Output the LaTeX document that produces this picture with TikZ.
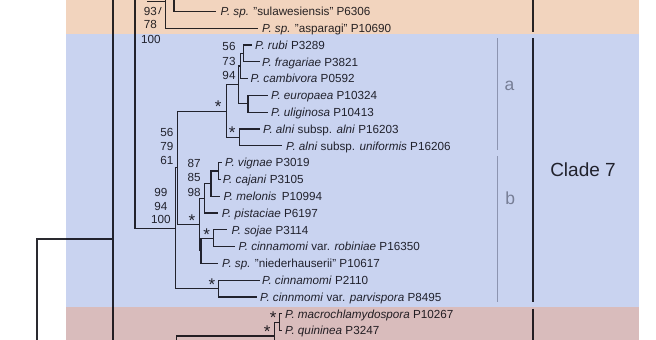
\documentclass[tikz,border=0pt]{standalone}
\usepackage{fontspec}
\setmainfont{Liberation Sans}
\definecolor{orangeband}{RGB}{242,212,190}
\definecolor{blueband}{RGB}{201,211,240}
\definecolor{redband}{RGB}{217,188,188}
\definecolor{ink}{RGB}{42,42,48}
\definecolor{barc}{RGB}{178,180,188}
\tikzset{
  br/.style={draw=ink, line width=1.1pt},
  leaf/.style={anchor=base west, inner sep=0pt, text=ink, font=\fontsize{11.7}{14}\selectfont},
  bsv/.style={anchor=base, inner sep=0pt, text=ink, font=\fontsize{11.7}{14}\selectfont},
  starlab/.style={anchor=base, inner sep=0pt, text=ink, font=\fontsize{17}{17}\selectfont},
  cladebar/.style={draw=ink, line width=1.6pt},
  subbar/.style={draw=barc, line width=1.3pt},
  sublab/.style={anchor=base, inner sep=0pt, text=barc!85!black, font=\fontsize{17.5}{18}\selectfont},
}
\begin{document}
\begin{tikzpicture}[x=1pt,y=-1pt]
\useasboundingbox (0,0) rectangle (656,340);
% ---------- leaf tips
\coordinate (tsula) at (216,11.2);
\coordinate (tasp) at (258,28.2);
\coordinate (trubi) at (252,45);
\coordinate (tfrag) at (260,61.8);
\coordinate (tcamb) at (248,78.6);
\coordinate (teuro) at (268,95.4);
\coordinate (tuli) at (268,112.2);
\coordinate (talni) at (260,129);
\coordinate (tunif) at (282,145.8);
\coordinate (tvig) at (222,162.6);
\coordinate (tcaj) at (220.5,179.4);
\coordinate (tmel) at (220,196.2);
\coordinate (tpis) at (218.3,213);
\coordinate (tsoj) at (227,229.8);
\coordinate (trob) at (235,246.6);
\coordinate (tnied) at (218.3,263.4);
\coordinate (tcinn) at (260,280.2);
\coordinate (tparv) at (257,297);
\coordinate (tmacro) at (282,313.8);
\coordinate (tquin) at (282,330.6);
% ---------- internal nodes
\coordinate (A) at (243.8,53.4);
\coordinate (B) at (240.3,66);
\coordinate (C) at (248,103.8);
\coordinate (D) at (238.7,84.9);
\coordinate (AL) at (239.3,137.4);
\coordinate (A0) at (226.5,111.15);
\coordinate (V) at (218.3,171);
\coordinate (M) at (211,183.6);
\coordinate (Pst) at (204.5,198.3);
\coordinate (S) at (213.3,238.2);
\coordinate (Nd) at (201,250.8);
\coordinate (Bc) at (199.5,224.55);
\coordinate (N1) at (177.2,167.85);
\coordinate (CP) at (218.3,288.6);
\coordinate (N0) at (175.5,228.2);
\coordinate (Q) at (279.3,322.2);
\coordinate (Rbot) at (274.3,340);
\coordinate (Rj) at (274.3,336);
\coordinate (Kbot) at (176.7,340);
\coordinate (O1top) at (165.7,0);
\coordinate (O2top) at (174,0);
\coordinate (Htl) at (147,1.2);
\coordinate (Htr) at (165.7,1.2);
\coordinate (Ktop) at (135,0);
\coordinate (Ltop) at (113,0);
\coordinate (Lbot) at (113,340);
\coordinate (J113) at (113,239);
\coordinate (R0bot) at (37,340);
\coordinate (sl1) at (158.6,14);
\coordinate (sl2) at (161.2,7);
% ---------- branches
\draw[br] (O2top) |- (tsula);
\draw[br] (O1top) |- (tasp);
\draw[br] (Htl) -- (Htr);
\draw[br, line width=0.8pt] (sl1) -- (sl2);
\draw[br] (Ltop) -- (Lbot);
\draw[br] (R0bot) |- (J113);
\draw[br] (Ktop) |- (N0);
\draw[br] (N0) |- (N1);
\draw[br] (N0) |- (CP);
\draw[br] (N1) |- (A0);
\draw[br] (N1) |- (Bc);
\draw[br] (A0) |- (D);
\draw[br] (A0) |- (AL);
\draw[br] (D) |- (B);
\draw[br] (D) |- (C);
\draw[br] (B) |- (A);
\draw[br] (B) |- (tcamb);
\draw[br] (A) |- (trubi);
\draw[br] (A) |- (tfrag);
\draw[br] (C) |- (teuro);
\draw[br] (C) |- (tuli);
\draw[br] (AL) |- (talni);
\draw[br] (AL) |- (tunif);
\draw[br] (Bc) |- (Pst);
\draw[br] (Bc) |- (Nd);
\draw[br] (Pst) |- (M);
\draw[br] (Pst) |- (tpis);
\draw[br] (M) |- (V);
\draw[br] (M) |- (tmel);
\draw[br] (V) |- (tvig);
\draw[br] (V) |- (tcaj);
\draw[br] (Nd) |- (S);
\draw[br] (Nd) |- (tnied);
\draw[br] (S) |- (tsoj);
\draw[br] (S) |- (trob);
\draw[br] (CP) |- (tcinn);
\draw[br] (CP) |- (tparv);
\draw[br] (Rbot) |- (Q);
\draw[br] (Q) |- (tmacro);
\draw[br] (Q) |- (tquin);
\draw[br] (Kbot) |- (Rj);
% ---------- leaf labels
\node[leaf] (Lsula) at (220.5,15.4) {\textit{P. sp.} "sulawesiensis" P6306};
\node[leaf] (Lasp) at (262,32.4) {\textit{P. sp.} "asparagi" P10690};
\node[leaf] (Lrubi) at (255,49.2) {\textit{P. rubi} P3289};
\node[leaf] (Lfrag) at (262,66) {\textit{P. fragariae} P3821};
\node[leaf] (Lcamb) at (250.5,82.8) {\textit{P. cambivora} P0592};
\node[leaf] (Leuro) at (271,99.6) {\textit{P. europaea} P10324};
\node[leaf] (Luli) at (271,116.4) {\textit{P. uliginosa} P10413};
\node[leaf] (Lalni) at (263,133.2) {\textit{P. alni} subsp. \textit{alni} P16203};
\node[leaf] (Lunif) at (286,150) {\textit{P. alni} subsp. \textit{uniformis} P16206};
\node[leaf] (Lvig) at (225,166.8) {\textit{P. vignae} P3019};
\node[leaf] (Lcaj) at (222.7,183.6) {\textit{P. cajani} P3105};
\node[leaf] (Lmel) at (223.3,200.4) {\textit{P. melonis} \,P10994};
\node[leaf] (Lpis) at (221.7,217.2) {\textit{P. pistaciae} P6197};
\node[leaf] (Lsoj) at (231.3,234) {\textit{P. sojae} P3114};
\node[leaf] (Lrob) at (238.3,250.8) {\textit{P. cinnamomi} var. \textit{robiniae} P16350};
\node[leaf] (Lnied) at (222,267.6) {\textit{P. sp.} "niederhauserii" P10617};
\node[leaf] (Lcinn) at (262,284.4) {\textit{P. cinnamomi} P2110};
\node[leaf] (Lparv) at (260,301.2) {\textit{P. cinnmomi} var. \textit{parvispora} P8495};
\node[leaf] (Lmacro) at (285,318) {\textit{P. macrochlamydospora} P10267};
\node[leaf] (Lquin) at (285,334.8) {\textit{P. quininea} P3247};
% ---------- support values
\node[bsv] (s1a) at (150.5,15.1) {93};
\node[bsv] (s1b) at (150.5,28.4) {78};
\node[bsv] (s1c) at (150.8,43.4) {100};
\node[bsv] (s2a) at (229,50.9) {56};
\node[bsv] (s2b) at (229,65.4) {73};
\node[bsv] (s2c) at (229,79.9) {94};
\node[bsv] (s3a) at (167,136.2) {56};
\node[bsv] (s3b) at (167,150.4) {79};
\node[bsv] (s3c) at (167,164.9) {61};
\node[bsv] (s4a) at (160.8,196.2) {99};
\node[bsv] (s4b) at (160.8,210.9) {94};
\node[bsv] (s4c) at (160.8,223.9) {100};
\node[bsv] (s5a) at (194.2,167.5) {87};
\node[bsv] (s5b) at (194.2,181.9) {85};
\node[bsv] (s5c) at (194.2,196.2) {98};
% ---------- stars
\node[starlab] (st1) at (218.3,112) {*};
\node[starlab] (st2) at (232.2,138.1) {*};
\node[starlab] (st3) at (192,226.5) {*};
\node[starlab] (st4) at (206.7,240.5) {*};
\node[starlab] (st5) at (212,290.5) {*};
\node[starlab] (st6) at (273.3,323.1) {*};
\node[starlab] (st7) at (267.2,337.1) {*};
% ---------- clade bars and labels
\coordinate (cb1a) at (532.7,0);
\coordinate (cb1b) at (532.7,32);
\coordinate (cb2a) at (532.7,38.3);
\coordinate (cb2b) at (532.7,301.7);
\coordinate (cb3a) at (532.7,308.5);
\coordinate (cb3b) at (532.7,340);
\draw[cladebar] (cb1a) -- (cb1b);
\draw[cladebar] (cb2a) -- (cb2b);
\draw[cladebar] (cb3a) -- (cb3b);
\coordinate (ga1) at (497.7,38.3);
\coordinate (ga2) at (497.7,150);
\coordinate (gb1) at (497.7,156);
\coordinate (gb2) at (497.7,301.7);
\draw[subbar] (ga1) -- (ga2);
\draw[subbar] (gb1) -- (gb2);
\node[sublab] (la) at (509.5,90.7) {a};
\node[sublab] (lb) at (510.3,204) {b};
\node[anchor=base, inner sep=0pt, text=ink, font=\fontsize{19}{20}\selectfont] (clade) at (583,176.8) {Clade 7};
% ---------- coloured bands (multiplied over the drawing)
\begin{scope}[blend mode=multiply]
\fill[orangeband] (66,0) rectangle (639,34);
\fill[blueband] (66,34) rectangle (639,307.3);
\fill[redband] (66,307.3) rectangle (639,340);
\end{scope}
\end{tikzpicture}
\end{document}
